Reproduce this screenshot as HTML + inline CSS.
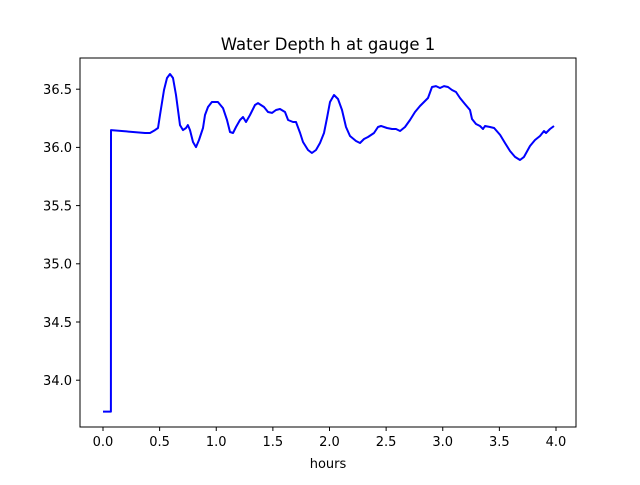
<!DOCTYPE html>
<html><head><meta charset="utf-8"><style>
body{margin:0;background:#fff}
svg text{font-family:"DejaVu Sans","Liberation Sans",sans-serif;fill:#000}
</style></head><body>
<svg width="640" height="480" xmlns="http://www.w3.org/2000/svg">
<rect width="640" height="480" fill="#fff"/>
<text x="328" y="50" font-size="16.5" text-anchor="middle">Water Depth h at gauge 1</text>
<g id="ticks"></g>
<path id="line" fill="none" stroke="#0000ff" stroke-width="2" stroke-linejoin="round"/>
<rect x="80" y="58" width="496" height="369" fill="none" stroke="#000" stroke-width="1"/>
<text x="328" y="468" font-size="13" text-anchor="middle">hours</text>
</svg>
<script>
const hours=[0,0.07,0.071,0.371,0.415,0.459,0.486,0.503,0.539,0.565,0.592,0.618,0.645,0.680,0.706,0.733,0.750,0.768,0.795,0.821,0.848,0.883,0.901,0.927,0.962,1.015,1.060,1.095,1.121,1.148,1.174,1.210,1.236,1.263,1.298,1.342,1.369,1.422,1.457,1.492,1.528,1.563,1.607,1.634,1.678,1.704,1.740,1.766,1.810,1.845,1.881,1.916,1.951,1.978,2.004,2.040,2.075,2.110,2.146,2.181,2.234,2.269,2.305,2.340,2.393,2.428,2.455,2.508,2.552,2.587,2.623,2.667,2.711,2.755,2.799,2.843,2.870,2.905,2.940,2.976,3.011,3.046,3.082,3.117,3.152,3.196,3.241,3.258,3.294,3.329,3.355,3.373,3.417,3.453,3.506,3.550,3.594,3.638,3.682,3.717,3.770,3.815,3.859,3.894,3.912,3.947,3.982];
const depth=[33.73,33.73,36.149,36.124,36.124,36.149,36.167,36.278,36.493,36.596,36.631,36.596,36.450,36.192,36.149,36.167,36.192,36.149,36.046,36.003,36.064,36.167,36.278,36.347,36.390,36.390,36.338,36.235,36.132,36.124,36.175,36.235,36.261,36.218,36.278,36.364,36.381,36.347,36.304,36.296,36.321,36.330,36.304,36.235,36.218,36.218,36.124,36.046,35.978,35.952,35.978,36.038,36.124,36.253,36.390,36.450,36.416,36.321,36.175,36.098,36.055,36.038,36.072,36.089,36.124,36.175,36.184,36.167,36.158,36.158,36.141,36.175,36.235,36.304,36.356,36.399,36.424,36.519,36.527,36.510,36.527,36.519,36.493,36.476,36.424,36.373,36.321,36.244,36.201,36.184,36.158,36.184,36.175,36.167,36.107,36.038,35.969,35.918,35.892,35.918,36.012,36.064,36.098,36.141,36.124,36.158,36.184];
const xTicks=[0,0.5,1,1.5,2,2.5,3,3.5,4];
const yTicks=[34.0,34.5,35.0,35.5,36.0,36.5];
const xs=h=>103+h*113.25;
const ys=d=>147.4-(d-36)*116.4;
const NS='http://www.w3.org/2000/svg';
const g=document.getElementById('ticks');
xTicks.forEach(t=>{
 const l=document.createElementNS(NS,'line');
 l.setAttribute('x1',xs(t));l.setAttribute('x2',xs(t));l.setAttribute('y1',427);l.setAttribute('y2',431);l.setAttribute('stroke','#000');
 
 
 g.appendChild(l);
 const tx=document.createElementNS(NS,'text');
 tx.setAttribute('x',xs(t));tx.setAttribute('y',446);tx.setAttribute('font-size','13');tx.setAttribute('text-anchor','middle');
 tx.textContent=t.toFixed(1);
 
 
 g.appendChild(tx);
});
yTicks.forEach(t=>{
 const l=document.createElementNS(NS,'line');
 l.setAttribute('x1',76);l.setAttribute('x2',80);l.setAttribute('y1',ys(t));l.setAttribute('y2',ys(t));l.setAttribute('stroke','#000');
 
 
 g.appendChild(l);
 const tx=document.createElementNS(NS,'text');
 tx.setAttribute('x',72);tx.setAttribute('y',ys(t)+4.8);tx.setAttribute('font-size','13');tx.setAttribute('text-anchor','end');
 tx.textContent=t.toFixed(1);
 
 
 g.appendChild(tx);
});
document.getElementById('line').setAttribute('d',hours.map((h,i)=>(i?'L':'M')+xs(h).toFixed(1)+' '+ys(depth[i]).toFixed(1)).join(' '));
</script>
</body></html>
